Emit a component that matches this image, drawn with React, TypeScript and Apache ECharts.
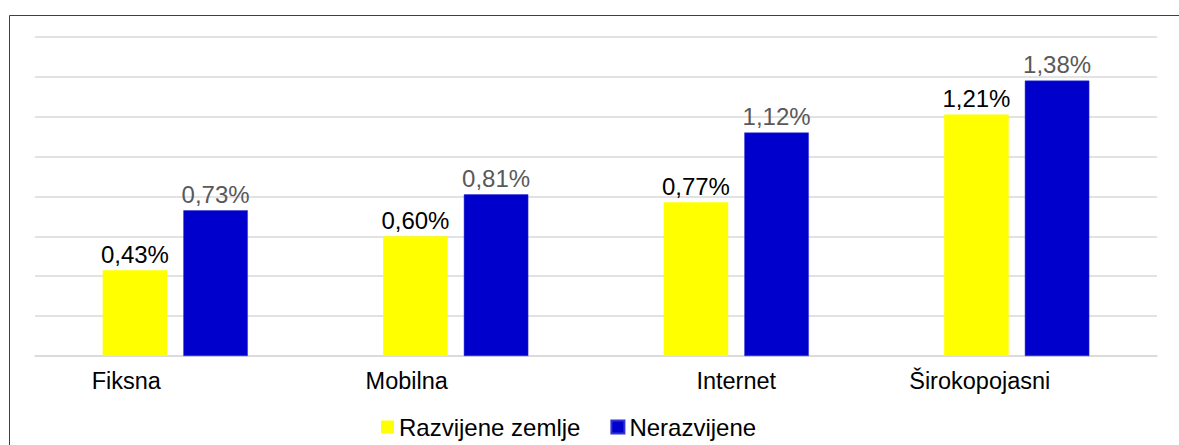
import React, { useEffect, useRef } from "react";
import * as echarts from "echarts";

const categories = ["Fiksna", "Mobilna", "Internet", "Širokopojasni"];
const developed = [0.43, 0.6, 0.77, 1.21];
const undeveloped = [0.73, 0.81, 1.12, 1.38];
const seriesNames = ["Razvijene zemlje", "Nerazvijene"];
const labelRightPad = [98, 98, 0, 74];

const fmt = (v: number) => v.toFixed(2).replace(".", ",") + "%";

export default function App() {
  const ref = useRef<HTMLDivElement>(null);
  useEffect(() => {
    if (!ref.current) return;
    const chart = echarts.init(ref.current, null, { renderer: "svg" });
    const font = "'Liberation Sans', Arial, sans-serif";
    chart.setOption({
      animation: false,
      backgroundColor: "#ffffff",
      textStyle: { fontFamily: font },
      graphic: [
        {
          type: "rect",
          left: 7,
          top: 13,
          shape: { x: 0, y: 0, width: 1250, height: 500 },
          style: { fill: "none", stroke: "#404040", lineWidth: 1 },
          silent: true,
        },
      ],
      grid: { left: 35, right: 22, top: 36.7, bottom: 89, containLabel: false },
      legend: {
        left: 376,
        top: 410,
        itemWidth: 13,
        itemHeight: 13,
        itemGap: 30,
        icon: "rect",
        textStyle: { fontSize: 24, color: "#000000", fontFamily: font },
        data: seriesNames,
      },
      xAxis: {
        type: "category",
        data: categories.map((c, i) => ({
          value: c,
          textStyle: { padding: [0, labelRightPad[i], 0, 0] },
        })),
        axisLine: { show: true, lineStyle: { color: "#d9d9d9", width: 1.5 } },
        axisTick: { show: false },
        axisLabel: { fontSize: 23.5, color: "#000000", margin: 13, fontFamily: font },
      },
      yAxis: {
        type: "value",
        min: 0,
        max: 1.6,
        interval: 0.2,
        axisLabel: { show: false },
        axisLine: { show: false },
        axisTick: { show: false },
        splitLine: { show: true, lineStyle: { color: "#d9d9d9", width: 1.5 } },
      },
      series: [
        {
          name: seriesNames[0],
          type: "bar",
          data: developed,
          barWidth: "23%",
          barGap: "25%",
          itemStyle: { color: "#ffff00" },
          label: {
            show: true,
            position: "top",
            distance: 4,
            fontSize: 24,
            color: "#000000",
            fontFamily: font,
            formatter: (p: any) => fmt(p.value),
          },
        },
        {
          name: seriesNames[1],
          type: "bar",
          data: undeveloped,
          barWidth: "23%",
          barGap: "25%",
          itemStyle: { color: "#0000cc", borderColor: "#3333d6", borderWidth: 0.5 },
          label: {
            show: true,
            position: "top",
            distance: 4,
            fontSize: 24,
            color: "#595959",
            fontFamily: font,
            formatter: (p: any) => fmt(p.value),
          },
        },
      ],
    });
    return () => chart.dispose();
  }, []);
  return (
    <div
      ref={ref}
      style={{ position: "absolute", left: 0, top: 0, width: 1179, height: 445, background: "#fff" }}
    />
  );
}
